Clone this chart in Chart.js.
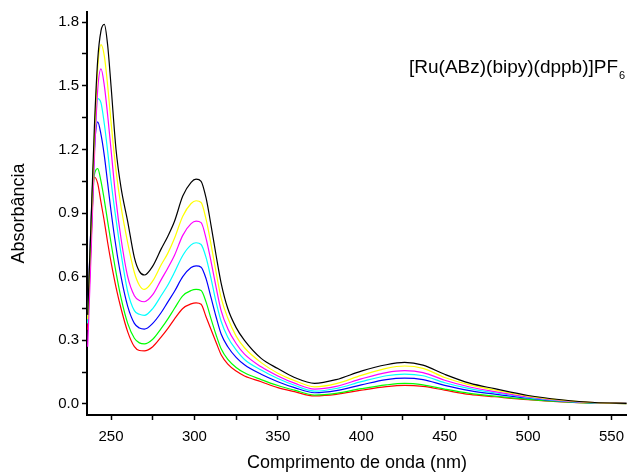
<!DOCTYPE html>
<html>
<head>
<meta charset="utf-8">
<script src="https://cdn.jsdelivr.net/npm/chart.js@4/dist/chart.umd.min.js"></script>
<style>
  html, body { margin: 0; padding: 0; background: #fff; }
  #wrap { width: 627px; height: 474px; }
</style>
</head>
<body>
<div id="wrap"><canvas id="canvas1" width="627" height="474"></canvas></div>
<script>
var ctx1 = document.getElementById("canvas1").getContext("2d");

// wavelengths (nm) shared by all spectra
const wavelength = [236, 238, 240, 242, 244, 246, 248, 250, 253, 256, 260, 264, 267, 270, 275, 280, 284, 288, 293, 298, 301, 304, 307, 310, 313, 316, 320, 325, 330, 340, 350, 360, 372, 385, 400, 415, 426, 437, 450, 465, 480, 500, 520, 540, 559];

// absorbance, one array per curve
const black   = [0.42, 0.85, 1.30, 1.62, 1.76, 1.79, 1.69, 1.50, 1.20, 1.02, 0.86, 0.69, 0.625, 0.608, 0.65, 0.73, 0.79, 0.86, 0.98, 1.045, 1.06, 1.05, 0.97, 0.84, 0.70, 0.57, 0.45, 0.36, 0.30, 0.215, 0.167, 0.125, 0.0975, 0.115, 0.155, 0.185, 0.196, 0.183, 0.14, 0.098, 0.072, 0.04, 0.02, 0.007, 0.003];
const yellow  = [0.40, 0.82, 1.25, 1.58, 1.694, 1.64, 1.50, 1.33, 1.10, 0.93, 0.76, 0.62, 0.56, 0.54, 0.58, 0.655, 0.71, 0.78, 0.885, 0.945, 0.958, 0.95, 0.87, 0.75, 0.62, 0.50, 0.405, 0.32, 0.265, 0.195, 0.145, 0.11, 0.081, 0.096, 0.135, 0.168, 0.179, 0.168, 0.125, 0.09, 0.066, 0.037, 0.018, 0.006, 0.003];
const magenta = [0.27, 0.70, 1.15, 1.48, 1.58, 1.50, 1.36, 1.20, 0.96, 0.78, 0.60, 0.51, 0.488, 0.482, 0.515, 0.585, 0.64, 0.70, 0.795, 0.85, 0.862, 0.855, 0.78, 0.67, 0.55, 0.44, 0.355, 0.285, 0.235, 0.175, 0.132, 0.098, 0.070, 0.083, 0.118, 0.148, 0.157, 0.148, 0.112, 0.08, 0.058, 0.033, 0.016, 0.006, 0.003];
const cyan    = [0.38, 0.78, 1.18, 1.44, 1.42, 1.32, 1.19, 1.05, 0.87, 0.71, 0.53, 0.44, 0.423, 0.418, 0.45, 0.51, 0.56, 0.62, 0.70, 0.75, 0.760, 0.752, 0.69, 0.59, 0.48, 0.39, 0.315, 0.255, 0.21, 0.16, 0.12, 0.088, 0.061, 0.073, 0.105, 0.133, 0.141, 0.133, 0.10, 0.072, 0.053, 0.03, 0.015, 0.005, 0.003];
const blue    = [0.42, 0.85, 1.20, 1.33, 1.27, 1.17, 1.04, 0.91, 0.74, 0.60, 0.46, 0.38, 0.358, 0.353, 0.38, 0.43, 0.48, 0.53, 0.60, 0.643, 0.651, 0.645, 0.59, 0.50, 0.41, 0.33, 0.27, 0.22, 0.185, 0.14, 0.105, 0.077, 0.053, 0.063, 0.09, 0.115, 0.122, 0.115, 0.088, 0.063, 0.046, 0.027, 0.013, 0.005, 0.003];
const green   = [0.38, 0.78, 1.08, 1.11, 1.05, 0.96, 0.86, 0.76, 0.62, 0.50, 0.38, 0.31, 0.288, 0.283, 0.305, 0.355, 0.40, 0.45, 0.51, 0.535, 0.540, 0.535, 0.48, 0.40, 0.325, 0.26, 0.21, 0.172, 0.147, 0.115, 0.087, 0.065, 0.042, 0.05, 0.072, 0.09, 0.097, 0.09, 0.07, 0.05, 0.037, 0.022, 0.011, 0.004, 0.002];
const red     = [0.35, 0.75, 1.07, 1.04, 0.95, 0.86, 0.76, 0.67, 0.55, 0.45, 0.34, 0.27, 0.252, 0.25, 0.27, 0.315, 0.355, 0.40, 0.45, 0.472, 0.477, 0.47, 0.41, 0.35, 0.29, 0.232, 0.188, 0.155, 0.132, 0.105, 0.077, 0.058, 0.038, 0.045, 0.065, 0.082, 0.088, 0.083, 0.065, 0.045, 0.034, 0.02, 0.01, 0.004, 0.002];

const series = [
  { data: black, color: "#000000" },
  { data: yellow, color: "#ffff00" },
  { data: magenta, color: "#ff00ff" },
  { data: cyan, color: "#00ffff" },
  { data: blue, color: "#0000ff" },
  { data: green, color: "#00ff00" },
  { data: red, color: "#ff0000" },
];

const fontFam = "'Liberation Sans', Arial, sans-serif";

// compound name written inside the plot, with PF6 subscript
const formulaLabel = {
  id: "formulaLabel",
  afterDraw(chart) {
    const c = chart.ctx;
    c.save();
    c.fillStyle = "#000";
    c.textBaseline = "alphabetic";
    c.font = "19px " + fontFam;
    const main = "[Ru(ABz)(bipy)(dppb)]PF";
    c.fillText(main, 409, 73);
    const w = c.measureText(main).width;
    c.font = "11px " + fontFam;
    c.fillText("6", 409 + w + 1, 79);
    c.restore();
  },
};

let myChart = new Chart(ctx1, {
  type: "line",
  data: {
    datasets: series.map((s) => ({
      data: s.data.map((v, i) => ({ x: wavelength[i], y: v })),
      borderColor: s.color,
      borderWidth: 1.2,
      pointRadius: 0,
      fill: false,
      cubicInterpolationMode: "monotone",
    })),
  },
  options: {
    responsive: false,
    animation: false,
    layout: { padding: { top: 12, right: 0, left: 0, bottom: 0 } },
    plugins: {
      legend: { display: false },
      tooltip: { enabled: false },
    },
    scales: {
      x: {
        type: "linear",
        min: 235.6,
        max: 559.3,
        afterFit: (s) => { s.height = 59; s.paddingLeft = 0; s.paddingRight = 0; },
        border: { display: true, color: "#000", width: 2 },
        grid: { drawOnChartArea: false, drawTicks: true, tickLength: 5, tickColor: "#000", tickWidth: 1.5 },
        ticks: {
          stepSize: 25,
          includeBounds: false,
          autoSkip: false,
          maxRotation: 0,
          color: "#000",
          padding: 8,
          font: { family: fontFam, size: 15 },
          callback: (v) => (Math.abs(v % 50) < 1e-6 ? String(Math.round(v)) : ""),
        },
        title: {
          display: true,
          text: "Comprimento de onda (nm)",
          color: "#000",
          font: { family: fontFam, size: 18 },
          padding: { top: 0, bottom: 0 },
        },
      },
      y: {
        min: -0.052,
        max: 1.848,
        afterFit: (s) => { s.width = 87; },
        border: { display: true, color: "#000", width: 2 },
        grid: { drawOnChartArea: false, drawTicks: true, tickLength: 5, tickColor: "#000", tickWidth: 1.5 },
        ticks: {
          stepSize: 0.15,
          includeBounds: false,
          autoSkip: false,
          color: "#000",
          padding: 3,
          font: { family: fontFam, size: 15 },
          callback: (v) => {
            const k = v / 0.3;
            return Math.abs(k - Math.round(k)) < 1e-6 ? v.toFixed(1) : "";
          },
        },
        title: {
          display: true,
          text: "Absorbância",
          color: "#000",
          font: { family: fontFam, size: 18 },
          padding: { top: 8, bottom: 0 },
        },
      },
    },
  },
  plugins: [formulaLabel],
});
</script>
</body>
</html>
